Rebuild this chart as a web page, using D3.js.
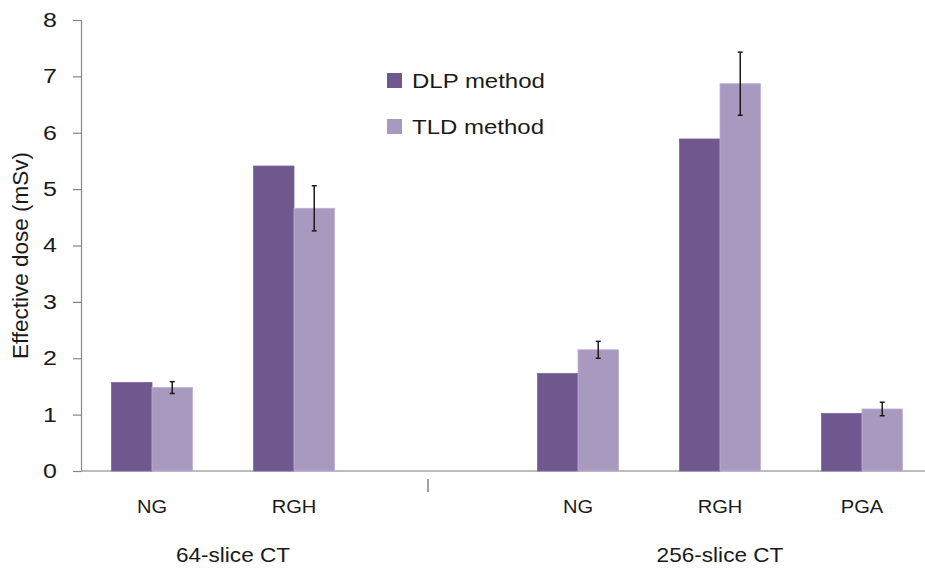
<!DOCTYPE html>
<html>
<head>
<meta charset="utf-8">
<script src="https://cdn.jsdelivr.net/npm/d3@7/dist/d3.min.js"></script>
<style>
  html, body { margin: 0; padding: 0; background: #fff; }
  svg { display: block; font-family: "Liberation Sans", Arial, sans-serif; }
</style>
</head>
<body>
<svg id="chart" width="925" height="569"></svg>
<script>
// Category slots along the x axis (the middle slot is an empty spacer between scanners)
const categories = ["NG", "RGH", "", "NG", "RGH", "PGA"];
const slotKeys = ["64-NG", "64-RGH", "gap", "256-NG", "256-RGH", "256-PGA"];
const seriesNames = ["DLP method", "TLD method"];
// Effective dose (mSv) per slot; null = no bar
const dlpValues = [1.57, 5.41, null, 1.73, 5.89, 1.02];
const tldValues = [1.48, 4.66, null, 2.15, 6.87, 1.10];
const tldErrors = [0.105, 0.40, null, 0.15, 0.56, 0.12];
const yTicks = [0, 1, 2, 3, 4, 5, 6, 7, 8];
const groups = [
  { label: "64-slice CT", from: 0, to: 1, dx: 10 },
  { label: "256-slice CT", from: 3, to: 5, dx: 0 }
];
const yTitle = "Effective dose (mSv)";

const colors = { "DLP method": "#6f588e", "TLD method": "#a899bf" };

const svg = d3.select("#chart");

// Widen text horizontally around its anchor point
function stretch(sel, sx) {
  sel.each(function () {
    const t = d3.select(this);
    const x = +t.attr("x") || 0;
    t.attr("transform", `translate(${x},0) scale(${sx},1) translate(${-x},0)`);
  });
}

const x0 = d3.scaleBand().domain(slotKeys).range([81, 933]).padding(0);
const x1 = d3.scaleBand().domain(seriesNames)
  .range([x0.bandwidth() * 0.215, x0.bandwidth() * 0.785]).padding(0);
const y = d3.scaleLinear().domain([0, 8]).range([471, 20]);

// Y axis
const yAxis = svg.append("g")
  .attr("transform", `translate(${x0.range()[0]},0)`)
  .call(d3.axisLeft(y).tickValues(yTicks).tickSize(8).tickPadding(16).tickFormat(d3.format("d")));
yAxis.select(".domain").attr("stroke", "#868686").attr("stroke-width", 1.2);
yAxis.selectAll(".tick line").attr("stroke", "#868686").attr("stroke-width", 1.2);
yAxis.selectAll(".tick text")
  .attr("font-size", 20).attr("fill", "#1a1a1a")
  .attr("font-family", "Liberation Sans, Arial, sans-serif")
  .call(stretch, 1.25);

// X axis baseline
svg.append("line")
  .attr("x1", x0.range()[0]).attr("x2", x0.range()[1])
  .attr("y1", y(0)).attr("y2", y(0))
  .attr("stroke", "#a6a6a6").attr("stroke-width", 1.5);

// Bars
const rows = slotKeys.map((k, i) => ({
  key: k,
  bars: [
    { series: "DLP method", value: dlpValues[i], err: null },
    { series: "TLD method", value: tldValues[i], err: tldErrors[i] }
  ].filter(b => b.value !== null)
}));

const slot = svg.append("g").selectAll("g").data(rows).join("g")
  .attr("transform", d => `translate(${x0(d.key)},0)`);

slot.selectAll("rect").data(d => d.bars).join("rect")
  .attr("x", d => x1(d.series))
  .attr("width", x1.bandwidth())
  .attr("y", d => y(d.value))
  .attr("height", d => y(0) - y(d.value))
  .attr("fill", d => colors[d.series])
  .attr("stroke", d => d3.color(colors[d.series]).brighter(0.35))
  .attr("stroke-width", 0.8);

// Error bars on TLD measurements
const eb = slot.selectAll("g.err").data(d => d.bars.filter(b => b.err !== null)).join("g")
  .attr("class", "err");
eb.append("line")
  .attr("x1", d => x1(d.series) + x1.bandwidth() / 2)
  .attr("x2", d => x1(d.series) + x1.bandwidth() / 2)
  .attr("y1", d => y(d.value + d.err))
  .attr("y2", d => y(d.value - d.err))
  .attr("stroke", "#1a1a1a").attr("stroke-width", 1.5);
eb.selectAll("line.cap").data(d => [d.value + d.err, d.value - d.err].map(v => ({ v, d })))
  .join("line").attr("class", "cap")
  .attr("x1", c => x1(c.d.series) + x1.bandwidth() / 2 - 2.5)
  .attr("x2", c => x1(c.d.series) + x1.bandwidth() / 2 + 2.5)
  .attr("y1", c => y(c.v)).attr("y2", c => y(c.v))
  .attr("stroke", "#1a1a1a").attr("stroke-width", 1.5);

// Category labels
svg.append("g").selectAll("text").data(categories.map((c, i) => ({ c, k: slotKeys[i] })).filter(d => d.c))
  .join("text")
  .attr("x", d => x0(d.k) + x0.bandwidth() / 2)
  .attr("y", 513)
  .attr("text-anchor", "middle")
  .attr("font-size", 17.5)
  .attr("fill", "#1a1a1a")
  .text(d => d.c)
  .call(stretch, 1.15);

// Divider mark under the empty spacer slot
svg.append("line")
  .attr("x1", x0("gap") + x0.bandwidth() / 2 - 8)
  .attr("x2", x0("gap") + x0.bandwidth() / 2 - 8)
  .attr("y1", y(0) + 8).attr("y2", y(0) + 21)
  .attr("stroke", "#707070").attr("stroke-width", 1.3);

// Scanner group labels
svg.append("g").selectAll("text").data(groups).join("text")
  .attr("x", d => (x0(slotKeys[d.from]) + x0(slotKeys[d.to]) + x0.bandwidth()) / 2 + d.dx)
  .attr("y", 562)
  .attr("text-anchor", "middle")
  .attr("font-size", 20)
  .attr("fill", "#1a1a1a")
  .text(d => d.label)
  .call(stretch, 1.13);

// Y axis title
svg.append("text")
  .attr("transform", `translate(28,${(y(0) + y(8)) / 2 + 10}) rotate(-90)`)
  .attr("text-anchor", "middle")
  .attr("font-size", 22.5)
  .attr("fill", "#1a1a1a")
  .text(yTitle);

// Legend
const legend = svg.append("g").selectAll("g").data(seriesNames).join("g")
  .attr("transform", (d, i) => `translate(387,${73 + i * 46})`);
legend.append("rect").attr("width", 15).attr("height", 15)
  .attr("fill", d => colors[d]);
legend.append("text").attr("x", 25).attr("y", 15)
  .attr("font-size", 20).attr("fill", "#1a1a1a")
  .text(d => d)
  .call(stretch, 1.2);
</script>
</body>
</html>
